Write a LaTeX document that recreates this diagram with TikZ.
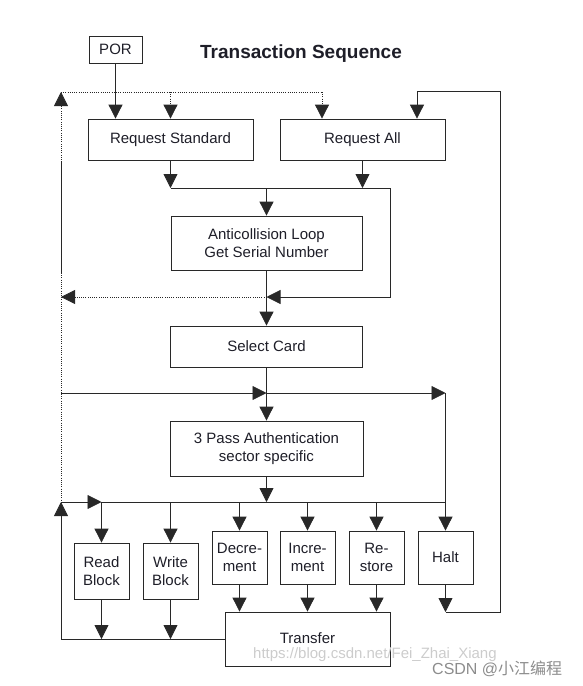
\documentclass[tikz,border=0pt]{standalone}
\usepackage{fontspec}
\setmainfont{Liberation Sans}
\newfontfamily\cjkfont{Noto Sans CJK SC}
\usetikzlibrary{arrows.meta}
\definecolor{txt}{RGB}{30,30,40}
\definecolor{ln}{RGB}{40,40,40}
\tikzset{
  box/.style={draw=ln, line width=0.8pt, inner sep=0pt, align=center, text=txt,
    font=\fontsize{15}{17.5}\selectfont},
  arr/.style={-{Triangle[length=14pt,width=14pt]}},
  wire/.style={draw=ln, line width=0.8pt},
  dotl/.style={draw=ln, line width=0.8pt, dash pattern=on 0.8pt off 1.4pt},
  wm/.style={text=black!20, font=\fontsize{15}{16}\selectfont},
}
\begin{document}
\begin{tikzpicture}[x=1pt,y=-1pt]
\path[use as bounding box] (0,0) rectangle (583,686);

% title
\node[font=\bfseries\fontsize{19}{21}\selectfont, text=txt] (title) at (301,54) {Transaction Sequence};

% boxes
\node[box, minimum width=53pt, minimum height=27pt] (POR) at (115.5,49.5) {POR};
\node[box, minimum width=165pt, minimum height=41pt] (RS) at (170.5,139.5) {Request Standard};
\node[box, minimum width=165pt, minimum height=41pt] (RA) at (362.5,139.5) {Request All};
\node[box, minimum width=191pt, minimum height=54pt] (AC) at (266.5,243) {Anticollision Loop\\Get Serial Number};
\node[box, minimum width=192pt, minimum height=41pt] (SC) at (266.5,346.5) {Select Card};
\node[box, minimum width=193pt, minimum height=55pt] (PA) at (266.5,448.5) {3 Pass Authentication\\sector specific};
\node[box, minimum width=55pt, minimum height=56pt] (RB) at (101.5,571) {Read\\Block};
\node[box, minimum width=55pt, minimum height=56pt] (WB) at (170.5,571) {Write\\Block};
\node[box, minimum width=55pt, minimum height=53pt] (DE) at (239.5,557.5) {Decre-\\ment};
\node[box, minimum width=55pt, minimum height=53pt] (IN) at (307.5,557.5) {Incre-\\ment};
\node[box, minimum width=55pt, minimum height=53pt] (RE) at (376.5,557.5) {Re-\\store};
\node[box, minimum width=55pt, minimum height=53pt] (HA) at (445.5,557.5) {Halt};
\node[box, minimum width=165pt, minimum height=54pt] (TR) at (307.5,639) {};
\node[text=txt, font=\fontsize{15}{17.5}\selectfont] (TRt) at (307.5,638) {Transfer};

% coordinates
\coordinate (Ltop) at (61,92);
\coordinate (Ls1) at (61,162);
\coordinate (Ls2) at (61,273);
\coordinate (L297) at (61,297);
\coordinate (L393) at (61,393);
\coordinate (L502) at (61,502);
\coordinate (L639) at (61,639);
\coordinate (D1) at (170.5,92);
\coordinate (D2) at (322,92);
\coordinate (B188a) at (170.5,188);
\coordinate (B188b) at (362.5,188);
\coordinate (B188c) at (266.5,188);
\coordinate (B188r) at (390,188);
\coordinate (J297) at (266.5,297);
\coordinate (R297) at (390,297);
\coordinate (J393) at (266.5,393);
\coordinate (H393) at (445.5,393);
\coordinate (J502) at (266.5,502);
\coordinate (A502) at (101.5,502);
\coordinate (H612) at (445.5,612);
\coordinate (R612) at (500,612);
\coordinate (R91) at (500,91);
\coordinate (A91) at (417,91);

% POR
\draw[wire, arr] (POR.south) -- (POR.south |- RS.north);

% dotted optional loop
\draw[dotl, arr] (Ls1) -- (Ltop);
\draw[wire] (Ls1) -- (Ls2);
\draw[dotl] (Ls2) -- (61,500);
\draw[dotl] (Ltop) -- (D2);
\draw[dotl, arr] (D1) -- (D1 |- RS.north);
\draw[dotl, arr] (D2) -- (D2 |- RA.north);
\draw[dotl, arr] (J297) -- (L297);

% right loop from Halt
\draw[wire, arr] (HA.south) -- (H612);
\draw[wire, arr] (H612) -- (R612) -- (R91) -- (A91) -- (A91 |- RA.north);

% requests to anticollision
\draw[wire, arr] (RS.south) -- (B188a);
\draw[wire, arr] (RA.south) -- (B188b);
\draw[wire] (B188a) -- (B188r);
\draw[wire, arr] (B188c) -- (AC.north);
\draw[wire, arr] (B188r) -- (R297) -- (J297);

% anticollision to select
\draw[wire, arr] (AC.south) -- (SC.north);

% select to auth
\draw[wire, arr] (SC.south) -- (PA.north);
\draw[wire, arr] (L393) -- (J393);
\draw[wire, arr] (J393) -- (H393);
\draw[wire, arr] (H393) -- (HA.north);

% auth to bus
\draw[wire, arr] (PA.south) -- (J502);
\draw[wire, arr] (L502) -- (A502);
\draw[wire] (A502) -- (H393 |- L502);
\draw[wire, arr] (A502) -- (RB.north);
\draw[wire, arr] (WB.north |- L502) -- (WB.north);
\draw[wire, arr] (DE.north |- L502) -- (DE.north);
\draw[wire, arr] (IN.north |- L502) -- (IN.north);
\draw[wire, arr] (RE.north |- L502) -- (RE.north);

% to transfer
\draw[wire, arr] (RB.south) -- (RB.south |- L639);
\draw[wire, arr] (WB.south) -- (WB.south |- L639);
\draw[wire, arr] (DE.south) -- (DE.south |- TR.north);
\draw[wire, arr] (IN.south) -- (IN.south |- TR.north);
\draw[wire, arr] (RE.south) -- (RE.south |- TR.north);
\draw[wire, arr] (TR.west) -- (L639) -- (L502);

% watermark
\node[wm, anchor=west, inner sep=0pt] (wm1) at (253,655) {https://blog.csdn.net/Fei\_Zhai\_Xiang};
\node[text=black!45, font=\fontsize{16}{18}\selectfont, anchor=west, inner sep=0pt] (wm2) at (432,669) {CSDN @{\cjkfont 小江编程}};
\end{tikzpicture}
\end{document}
